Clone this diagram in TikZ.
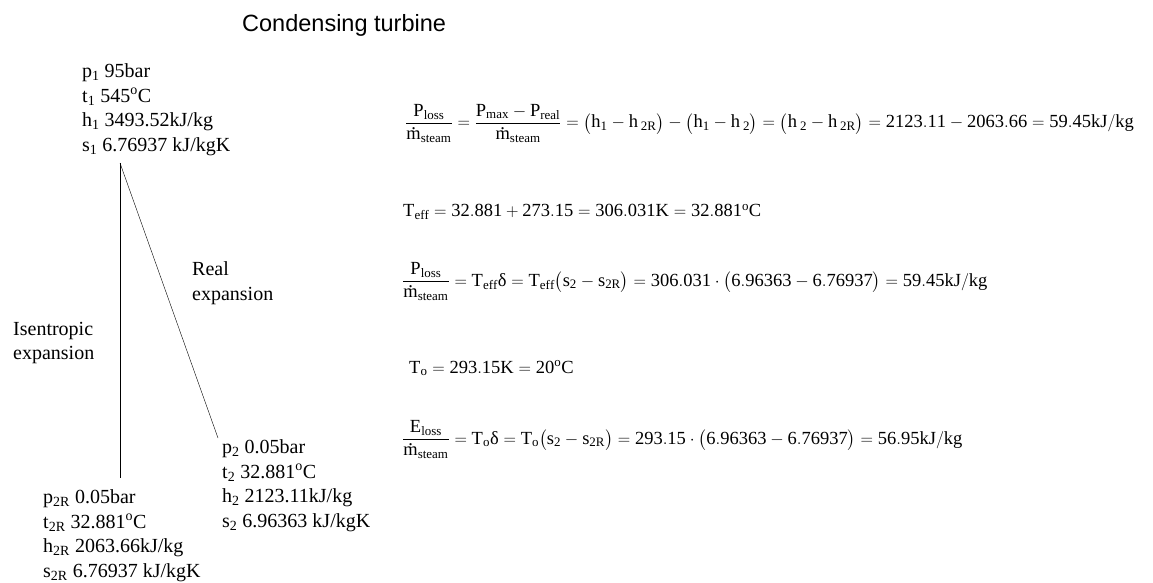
\documentclass[tikz,border=0pt]{standalone}
\usepackage{amsmath}
\usepackage{fontspec}
\setmainfont{Liberation Serif}
\newfontfamily\titlefont{Liberation Sans}
\newcommand{\mdotchar}{\text{\ooalign{m\cr\hidewidth\raisebox{0.58em}{.}\hidewidth\cr}}}
\newcommand{\msteam}{\mdotchar_{steam}}
\newcommand{\degC}{^{o}C}
\tikzset{
  statebox/.style={anchor=base west, align=left, inner sep=0pt, font=\fontsize{20}{24.5}\selectfont},
  eqbox/.style={anchor=base west, inner sep=0pt, font=\fontsize{18.5}{23}\selectfont}
}
\begin{document}
\begin{tikzpicture}[x=1pt, y=-1pt, thin]
  \useasboundingbox (0,0) rectangle (1153,583);
  % 1. 标题
  \node[anchor=base west, inner sep=0pt, font=\titlefont\fontsize{23.5}{28}\selectfont] (title) at (242,32) {Condensing turbine};

  % 2. 状态点（基线取最后一行）
  \node[statebox] (st1) at (82,151) {p\textsubscript{1} 95bar\\ t\textsubscript{1} 545\textsuperscript{o}C\\ h\textsubscript{1} 3493.52kJ/kg\\ s\textsubscript{1} 6.76937 kJ/kgK};
  \node[statebox] (st2) at (222,527) {p\textsubscript{2} 0.05bar\\ t\textsubscript{2} 32.881\textsuperscript{o}C\\ h\textsubscript{2} 2123.11kJ/kg\\ s\textsubscript{2} 6.96363 kJ/kgK};
  \node[statebox] (st2R) at (43,577) {p\textsubscript{2R} 0.05bar\\ t\textsubscript{2R} 32.881\textsuperscript{o}C\\ h\textsubscript{2R} 2063.66kJ/kg\\ s\textsubscript{2R} 6.76937 kJ/kgK};

  % 3. 膨胀线及标注
  \coordinate (top) at (120,163);
  \coordinate (botR) at (120,478);
  \coordinate (bot2) at (218,438);
  \draw (top) -- (botR);
  \draw (top) -- (bot2);
  \node[statebox] (lblreal) at (192,300) {Real\\ expansion};
  \node[statebox] (lblisen) at (13,359.5) {Isentropic\\ expansion};

  % 4. 公式
  \node[eqbox] (eqloss) at (405,128) {$\mathrm{\dfrac{P_{loss}}{\msteam}=\dfrac{P_{max}-P_{real}}{\msteam}=\bigl(h_1-h{}\,_{2R}\bigr)-\bigl(h_1-h{}\,_2\bigr)=\bigl(h{}\,_2-h{}\,_{2R}\bigr)=2123.11-2063.66=59.45kJ/kg}$};
  \node[eqbox] (eqteff) at (403,216.7) {$\mathrm{T_{eff}=32.881+273.15=306.031K=32.881\degC}$};
  \node[eqbox] (eqploss) at (402,286) {$\mathrm{\dfrac{P_{loss}}{\msteam}=T_{eff}\text{δ}=T_{eff}\bigl(s_2-s_{2R}\bigr)=306.031\cdot\bigl(6.96363-6.76937\bigr)=59.45kJ/kg}$};
  \node[eqbox] (eqto) at (409,373) {$\mathrm{T_o=293.15K=20\degC}$};
  \node[eqbox] (eqeloss) at (402,444) {$\mathrm{\dfrac{E_{loss}}{\msteam}=T_o\text{δ}=T_o\bigl(s_2-s_{2R}\bigr)=293.15\cdot\bigl(6.96363-6.76937\bigr)=56.95kJ/kg}$};
\end{tikzpicture}
\end{document}
